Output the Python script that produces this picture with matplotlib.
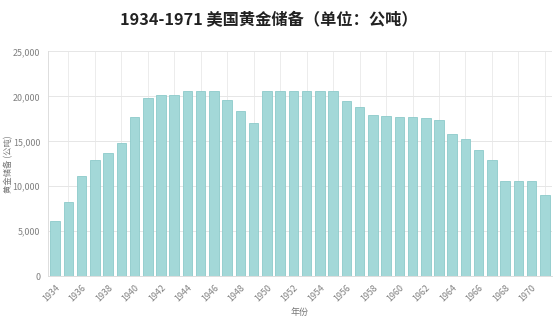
import matplotlib
matplotlib.use("Agg")
import matplotlib.pyplot as plt
from matplotlib.ticker import FuncFormatter

plt.rcParams["font.family"] = ["Noto Sans CJK SC", "DejaVu Sans"]

years = list(range(1934, 1972))
gold_tonnes = [
    6100, 8200, 11100, 12900, 13700, 14800, 17700, 19800, 20200, 20200,
    20650, 20650, 20650, 19600, 18400, 17050, 20650, 20650, 20650, 20650,
    20650, 20650, 19500, 18800, 17900, 17800, 17700, 17700, 17600, 17400,
    15800, 15300, 14000, 12900, 10550, 10550, 10550, 9000,
]
title = "1934-1971 美国黄金储备（单位：公吨）"
x_label = "年份"
y_label = "黄金储备 (公吨)"


def make_graph():
    fig = plt.figure(figsize=(5.54, 3.21), dpi=100)
    ax = fig.add_axes([0.0875, 0.140, 0.908, 0.6996])

    idx = list(range(len(years)))
    ax.bar(idx, gold_tonnes, width=0.72, color="#a3d8d8",
           edgecolor="#8dcaca", linewidth=0.6, zorder=3)

    ax.set_xlim(-0.5, len(years) - 0.5)
    ax.set_ylim(0, 25000)
    ax.set_yticks(range(0, 25001, 5000))
    ax.yaxis.set_major_formatter(FuncFormatter(lambda v, p: f"{int(v):,}"))

    # labels every other year, grid lines in between (chart.js style)
    ax.set_xticks(idx[::2])
    ax.set_xticklabels([str(y) for y in years[::2]], rotation=45,
                       ha="right", rotation_mode="anchor")
    ax.set_xticks(idx[1::2], minor=True)

    ax.tick_params(axis="both", which="both", length=0, colors="#808080",
                   labelsize=6.4)
    ax.tick_params(axis="y", pad=6)
    ax.tick_params(axis="x", pad=5)

    ax.grid(axis="y", color="#e6e6e6", linewidth=0.7, zorder=0)
    ax.grid(axis="x", which="minor", color="#ececec", linewidth=0.7, zorder=0)

    for side in ["top", "right"]:
        ax.spines[side].set_visible(False)
    for side in ["left", "bottom"]:
        ax.spines[side].set_color("#dddddd")
        ax.spines[side].set_linewidth(0.7)

    ax.set_xlabel(x_label, fontsize=6.5, color="#777777", labelpad=3)
    fig.text(9 / 554, 0.49, y_label, rotation=90, ha="center", va="center",
             fontsize=6.0, color="#777777")

    fig.text(0.486, 0.937, title, ha="center", va="center",
             fontsize=11.7, fontweight="bold", color="#222222")

    fig.savefig("out.png", dpi=100)


def main():
    make_graph()


if __name__ == "__main__":
    main()
